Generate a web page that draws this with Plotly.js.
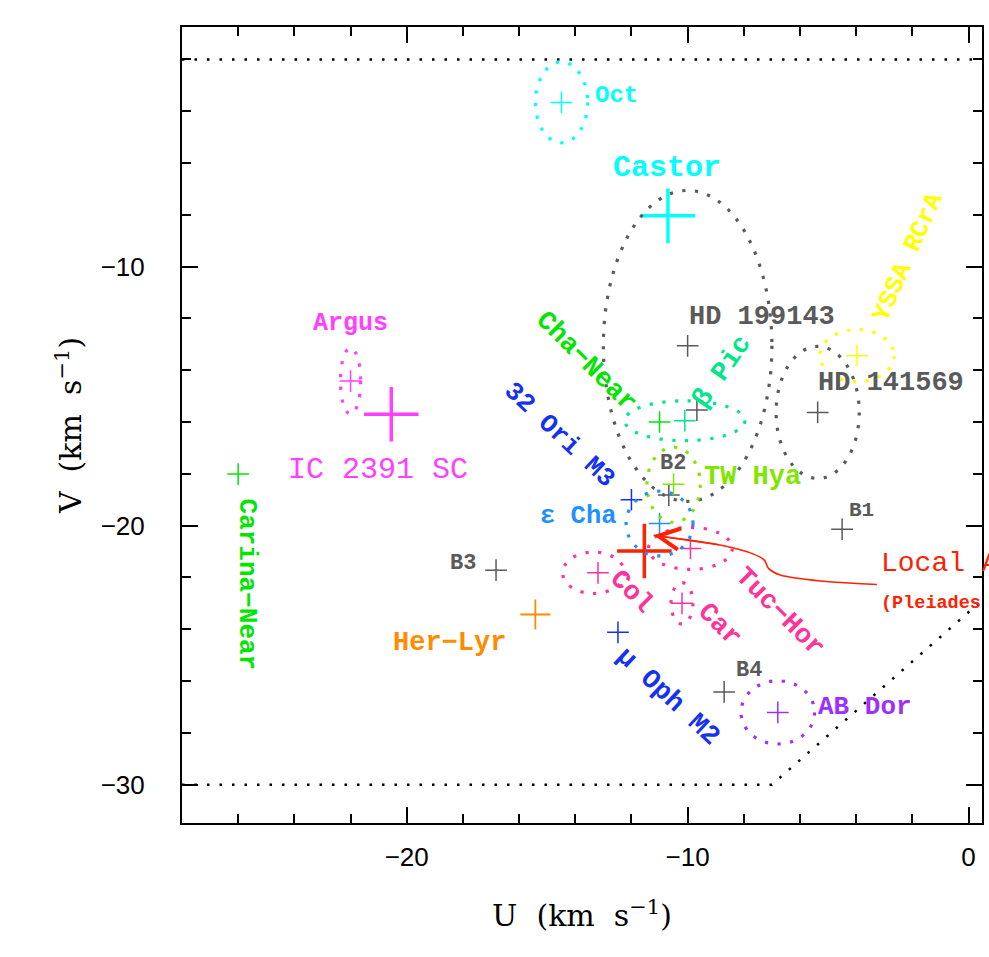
<!DOCTYPE html>
<html><head><meta charset="utf-8">
<script src="https://cdn.plot.ly/plotly-3.0.1.min.js"></script>
<style>html,body{margin:0;padding:0;background:#fff}#chart{width:989px;height:957px}</style>
</head><body><div id="chart"></div>
<script>
// ---- Data: group mean U,V velocities (km/s) ----
const groupNames = ['Oct','Castor','HD 199143','HD 141569','YSSA RCrA','β Pic','Cha-Near','Bx','TW Hya','B2','32 Ori M3','ε Cha','Local Association','Tuc-Hor','Col','Car','B3','Her-Lyr','μ Oph M2','B4','AB Dor','B1','Argus','IC 2391 SC','Carina-Near'];
const groupU = [-14.49,-10.70,-10.00,-5.37,-3.97,-10.10,-11.00,-9.67,-10.50,-10.67,-12.00,-11.00,-11.54,-9.90,-13.19,-10.20,-16.82,-15.42,-12.48,-8.70,-6.79,-4.50,-22.00,-20.55,-26.00];
const groupV = [-3.66,-8.04,-13.06,-15.63,-13.44,-15.95,-16.00,-15.54,-18.40,-18.82,-19.00,-19.92,-20.98,-20.88,-21.82,-23.00,-21.72,-23.43,-24.12,-26.42,-27.21,-20.14,-14.42,-15.70,-18.01];

// ---- Data: dispersion ellipses (centre and semi-axes, km/s) ----
const ellNames = ['Oct','HD 199143','HD 141569','YSSA RCrA','β Pic','TW Hya','ε Cha','Tuc-Hor','Col','Car','AB Dor','Argus'];
const ellU  = [-14.49,-10.00,-5.37,-3.97,-10.10,-10.50,-11.00,-9.90,-13.35,-10.20,-6.79,-22.00];
const ellV  = [-3.66,-13.06,-15.63,-13.44,-15.95,-18.42,-19.92,-20.88,-21.82,-23.00,-27.21,-14.42];
const ellSU = [0.93,3.00,1.48,1.32,2.14,0.95,1.19,1.49,1.10,0.39,1.31,0.36];
const ellSV = [1.56,6.00,2.55,1.01,0.77,1.45,1.25,0.81,0.80,0.80,1.22,1.27];

// ---- Data: boundary (dotted) lines ----
const topBoundU = [-28, 0.5];
const topBoundV = [-2, -2];
const botBoundU = [-28, -7, 0.5];
const botBoundV = [-30, -30, -22.87];

// ---- Data: pointer curve from the Local Association label ----
const arrowU = [-3.26,-5.28,-6.70,-7.12,-7.27,-7.65,-8.84,-11.21];
const arrowV = [-22.27,-22.14,-21.91,-21.65,-21.33,-21.10,-20.75,-20.37];

// ---- Styles ----
const C = {cyan:'#00FFFF', gray:'#5A5A5A', yellow:'#FFFF00', teal:'#00E68C', green:'#00E600', lime:'#80E600',
  sky:'#1E90FF', blue:'#1432F0', red:'#FF2200', pink:'#FF3399', orange:'#FF8C00', purple:'#9B30FF', magenta:'#FF40FF'};
const groupStyle = {
  'Oct':['cyan','s'], 'Castor':['cyan','b'], 'HD 199143':['gray','s'], 'HD 141569':['gray','s'],
  'YSSA RCrA':['yellow','s'], 'β Pic':['teal','s'], 'Cha-Near':['green','s'], 'Bx':['gray','s'],
  'TW Hya':['lime','s'], 'B2':['gray','s'], '32 Ori M3':['blue','s'], 'ε Cha':['sky','s'],
  'Local Association':['red','b'], 'Tuc-Hor':['pink','s'], 'Col':['pink','s'], 'Car':['pink','s'],
  'B3':['gray','s'], 'Her-Lyr':['orange','m'], 'μ Oph M2':['blue','s'], 'B4':['gray','s'],
  'AB Dor':['purple','s'], 'B1':['gray','s'], 'Argus':['magenta','s'], 'IC 2391 SC':['magenta','b'],
  'Carina-Near':['green','s']
};
const ellColor = {'Oct':'cyan','HD 199143':'gray','HD 141569':'gray','YSSA RCrA':'yellow','β Pic':'teal',
  'TW Hya':'lime','ε Cha':'sky','Tuc-Hor':'pink','Col':'pink','Car':'pink','AB Dor':'purple','Argus':'magenta'};
const sizeCls = {s:{size:15.5,w:1.5}, m:{size:21.5,w:1.8}, b:{size:39,w:3.5}};

const traces = [];
// boundaries
traces.push({x:topBoundU, y:topBoundV, mode:'lines', line:{color:'#000', width:2.5, dash:'2.5px,10px'}, hoverinfo:'skip'});
traces.push({x:botBoundU, y:botBoundV, mode:'lines', line:{color:'#000', width:2.5, dash:'2.5px,10px'}, hoverinfo:'skip'});
// arrow curve
traces.push({x:arrowU, y:arrowV, mode:'lines', line:{color:C.red, width:1.6, shape:'spline', smoothing:0.8}, hoverinfo:'skip'});
// crosses
['s','m','b'].forEach(cls => {
  Object.keys(C).forEach(col => {
    const xs=[], ys=[], tx=[];
    groupNames.forEach((n,i) => {
      const st = groupStyle[n];
      if (st[0]===col && st[1]===cls) { xs.push(groupU[i]); ys.push(groupV[i]); tx.push(n); }
    });
    if (!xs.length) return;
    traces.push({x:xs, y:ys, text:tx, mode:'markers', hoverinfo:'text',
      marker:{symbol:'cross-thin', size:sizeCls[cls].size, color:C[col], line:{color:C[col], width:sizeCls[cls].w}}});
  });
});

// ellipse shapes built from the ellipse arrays
const shapes = ellNames.map((n,i) => ({
  type:'circle', xref:'x', yref:'y', layer:'above',
  x0: ellU[i]-ellSU[i], x1: ellU[i]+ellSU[i], y0: ellV[i]-ellSV[i], y1: ellV[i]+ellSV[i],
  line:{color:C[ellColor[n]], width:3.2, dash:'3.2px,9.5px'}
}));

// labels (anchor positions in data units)
const MONO = 'Liberation Mono';
const labels = [
  {t:'Oct', u:-13.33, v:-3.38, c:'cyan', s:24, xa:'left'},
  {t:'Castor', u:-10.72, v:-6.20, c:'cyan', s:30},
  {t:'HD 199143', u:-9.98, v:-11.94, c:'gray', s:27, xa:'left'},
  {t:'HD 141569', u:-5.38, v:-14.51, c:'gray', s:27, xa:'left'},
  {t:'YSSA RCrA', u:-2.15, v:-9.63, c:'yellow', s:25.5, a:-66},
  {t:'Cha−Near', u:-13.61, v:-13.69, c:'green', s:27, a:45},
  {t:'β Pic', u:-8.77, v:-14.07, c:'teal', s:27, a:-55},
  {t:'TW Hya', u:-9.45, v:-18.13, c:'lime', s:27, xa:'left'},
  {t:'B2', u:-10.53, v:-17.59, c:'gray', s:22},
  {t:'ε Cha', u:-12.47, v:-19.66, c:'sky', s:25.5, xa:'right'},
  {t:'32 Ori M3', u:-14.57, v:-16.51, c:'blue', s:26, a:43},
  {t:'μ Oph M2', u:-10.69, v:-26.62, c:'blue', s:27, a:43},
  {t:'Col', u:-12.0, v:-22.57, c:'pink', s:27, a:45},
  {t:'Tuc−Hor', u:-6.74, v:-23.34, c:'pink', s:27, a:45},
  {t:'Car', u:-8.87, v:-23.84, c:'pink', s:27, a:45},
  {t:'AB Dor', u:-5.38, v:-27.0, c:'purple', s:26, xa:'left'},
  {t:'B4', u:-7.8, v:-25.58, c:'gray', s:22},
  {t:'B1', u:-3.82, v:-19.4, c:'gray', s:21},
  {t:'B3', u:-17.99, v:-21.46, c:'gray', s:22},
  {t:'Her−Lyr', u:-16.42, v:-24.55, c:'orange', s:27, xa:'right'},
  {t:'Argus', u:-22.0, v:-12.19, c:'magenta', s:25},
  {t:'IC 2391 SC', u:-21.02, v:-17.86, c:'magenta', s:30, w:'normal'},
  {t:'Carina−Near', u:-25.7, v:-22.26, c:'green', s:26, a:90},
  {t:'Local Association', u:-3.15, v:-21.45, c:'red', s:28, xa:'left', w:'normal'},
  {t:'(Pleiades moving group)', u:-3.15, v:-22.99, c:'red', s:18.5, xa:'left'}
];
const annotations = labels.map(L => ({
  text:L.t, x:L.u, y:L.v, xref:'x', yref:'y', showarrow:false,
  xanchor:L.xa||'center', yanchor:'middle', textangle:L.a||0, borderpad:0,
  font:{family:MONO, size:L.s, color:C[L.c], weight:L.w||'bold'}
}));
// arrow head at the end of the pointer curve
const nA = arrowU.length;
annotations.push({x:arrowU[nA-1], y:arrowV[nA-1], ax:arrowU[nA-2], ay:arrowV[nA-2], xref:'x', yref:'y', axref:'x', ayref:'y',
  text:'', showarrow:true, arrowhead:5, arrowsize:2.8, arrowwidth:1.5, arrowcolor:C.red});

const axisCommon = {
  tick0:0, dtick:10, ticks:'inside', ticklen:16, tickwidth:2, tickcolor:'#000',
  showline:true, linewidth:2, linecolor:'#000', mirror:'allticks',
  showgrid:false, zeroline:false,
  tickfont:{family:'Liberation Sans', size:26, color:'#000'},
  minor:{dtick:2, ticks:'inside', ticklen:9, tickwidth:2, tickcolor:'#000', showgrid:false}
};
const layout = {
  width:989, height:957, showlegend:false,
  paper_bgcolor:'#fff', plot_bgcolor:'#fff',
  margin:{l:182, r:7, t:27, b:134},
  xaxis:Object.assign({}, axisCommon, {range:[-28, 0.48], ticklabelstandoff:10,
    title:{text:'U\u00a0\u00a0(km\u00a0\u00a0s<sup>−1</sup>)', font:{family:'DejaVu Serif', size:30, color:'#000'}, standoff:34}}),
  yaxis:Object.assign({}, axisCommon, {range:[-31.48, -0.75], ticklabelstandoff:30,
    title:{text:'V\u00a0\u00a0(km\u00a0\u00a0s<sup>−1</sup>)', font:{family:'DejaVu Serif', size:30, color:'#000'}, standoff:10}}),
  shapes:shapes,
  annotations:annotations
};
Plotly.newPlot('chart', traces, layout, {displayModeBar:false, staticPlot:true});
</script>
</body></html>
